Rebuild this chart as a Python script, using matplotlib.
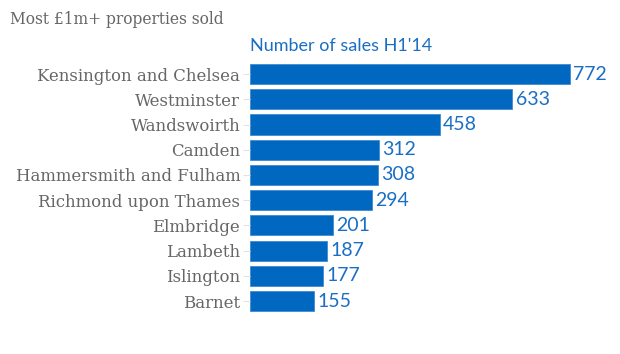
import matplotlib
matplotlib.use("Agg")
import matplotlib.pyplot as plt

areas = ["Kensington and Chelsea", "Westminster", "Wandswoirth", "Camden",
         "Hammersmith and Fulham", "Richmond upon Thames", "Elmbridge",
         "Lambeth", "Islington", "Barnet"]
sales = [772, 633, 458, 312, 308, 294, 201, 187, 177, 155]

bar_color = "#0068c0"
label_color = "#666666"
value_color = "#1a6fc4"
serif = ["DejaVu Serif"]

fig = plt.figure(figsize=(6.2, 3.54), dpi=100)
ax = fig.add_axes([0.4032, 0.114, 0.5968, 0.7124])

y = list(range(len(areas)))
ax.barh(y, sales, height=0.8, color=bar_color, edgecolor="#3f8bd2", linewidth=0.6)
ax.set_ylim(len(areas) - 0.5, -0.5)
ax.set_xlim(0, 893)

ax.set_yticks(y)
ax.set_yticklabels(areas, family=serif, fontsize=11.9, color=label_color)
ax.tick_params(axis="y", length=5, width=0.6, color="#dddddd", pad=2)
ax.set_xticks([])
for s in ax.spines.values():
    s.set_visible(False)

for yi, v in zip(y, sales):
    ax.text(v + 8, yi, str(v), va="center", ha="left", fontsize=14,
            color=value_color, family="Lato")

fig.text(10 / 620, 1 - 19 / 354, "Most £1m+ properties sold",
         family=serif, fontsize=11.2, color=label_color, va="center", ha="left")
fig.text(250 / 620, 1 - 46 / 354, "Number of sales H1'14",
         family="Lato", fontsize=13, color=value_color, va="center", ha="left")

fig.savefig("out.png", dpi=100)
